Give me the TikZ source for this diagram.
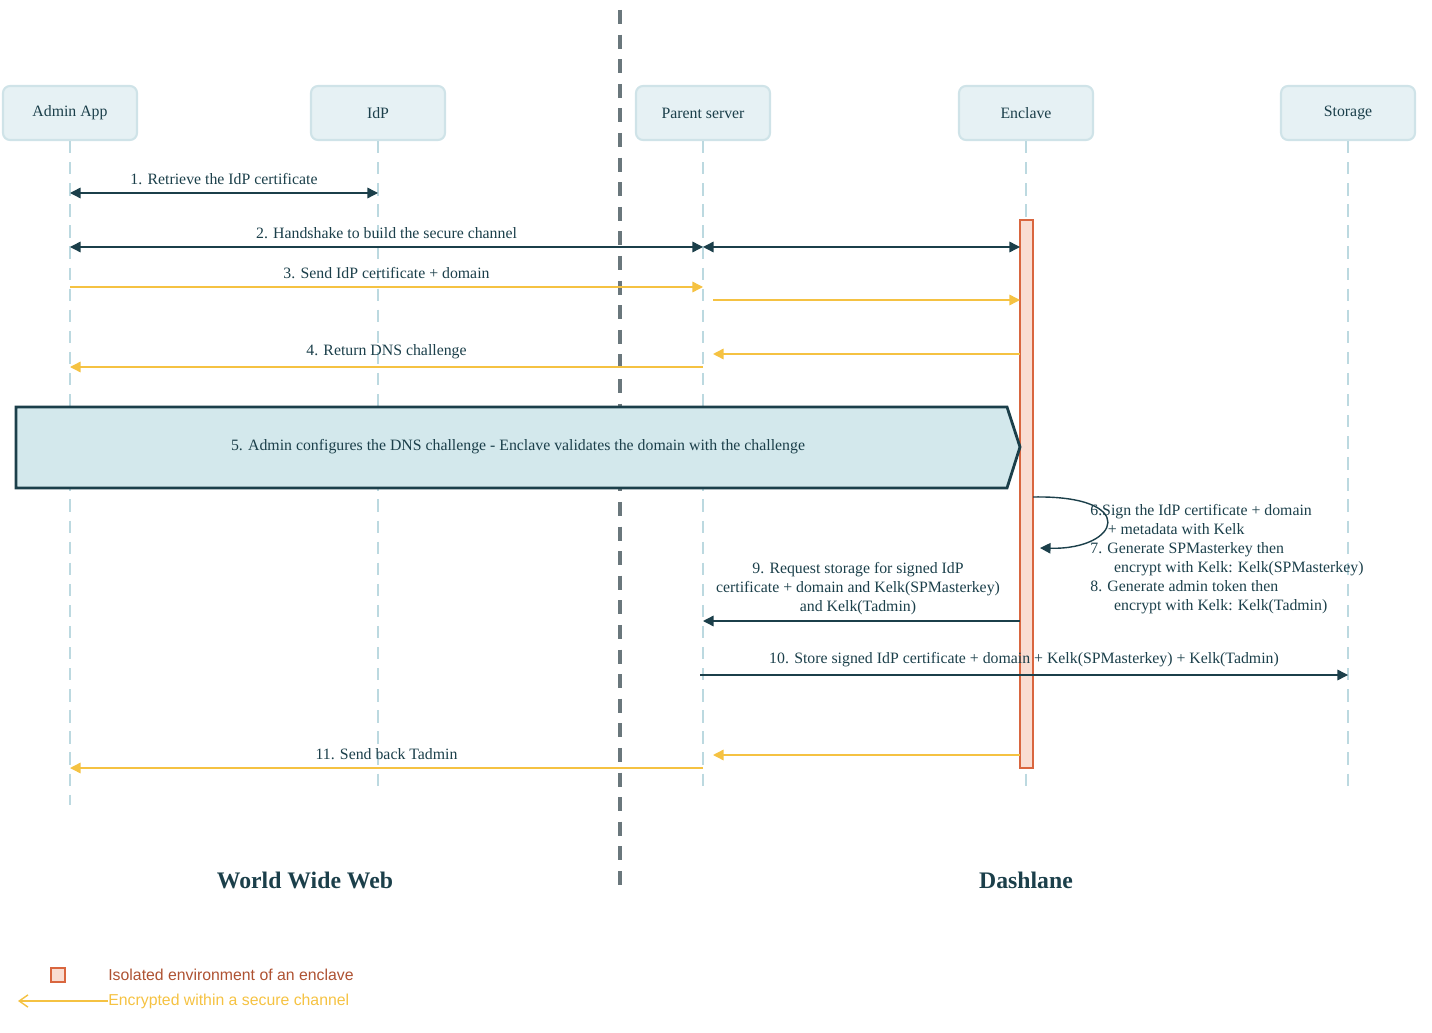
\documentclass[tikz,border=0pt]{standalone}
\usepackage{fontspec}
\setmainfont{Liberation Serif}
\newfontfamily\legfont{Liberation Sans}
\usetikzlibrary{arrows.meta}
\definecolor{dk}{HTML}{1B3F4A}
\definecolor{yl}{HTML}{F5C242}
\definecolor{bxf}{HTML}{E6F1F4}
\definecolor{bxd}{HTML}{CFE3E8}
\definecolor{ll}{HTML}{BCD9E0}
\definecolor{dv}{HTML}{6A777C}
\definecolor{enf}{HTML}{F9DDD2}
\definecolor{end}{HTML}{D9663F}
\definecolor{bnf}{HTML}{D3E8EC}
\begin{document}
\begin{tikzpicture}[x=0.02cm,y=-0.02cm,
  actor/.style={draw=bxd,line width=1.2pt,fill=bxf,rounded corners=4pt,minimum width=134*0.02cm,minimum height=54*0.02cm,font=\fontsize{9}{11}\selectfont,text=dk},
  life/.style={draw=ll,line width=1pt,dash pattern=on 7pt off 5pt},
  msg/.style={draw=dk,line width=0.8pt,-{Triangle[length=6pt,width=6pt]}},
  bi/.style={draw=dk,line width=0.8pt,{Triangle[length=6pt,width=6pt]}-{Triangle[length=6pt,width=6pt]}},
  enc/.style={draw=yl,line width=0.8pt,-{Triangle[length=6pt,width=6pt]}},
  lab/.style={font=\fontsize{9}{10.8}\selectfont,text=dk}]
\useasboundingbox (0,0) rectangle (1432,1033);
% divider
\draw[dv,line width=2pt,dash pattern=on 8pt off 6pt] (620,10) -- (620,890);
% actors
\node[actor] (a) at (70,113) {Admin App};
\node[actor] (i) at (378,113) {IdP};
\node[actor] (p) at (703,113) {Parent server};
\node[actor] (e) at (1026,113) {Enclave};
\node[actor] (s) at (1348,113) {Storage};
\coordinate (ae) at (70,805);
\coordinate (ie) at (378,790);
\coordinate (pe) at (703,790);
\coordinate (ee) at (1026,790);
\coordinate (se) at (1348,790);
\draw[life] (a.south) -- (ae);
\draw[life] (i.south) -- (ie);
\draw[life] (p.south) -- (pe);
\draw[life] (e.south) -- (ee);
\draw[life] (s.south) -- (se);
% activation
\node[draw=end,fill=enf,line width=0.8pt,minimum width=13*0.02cm,minimum height=548*0.02cm,inner sep=0pt] (act) at (1026.5,494) {};
% coordinates on lifelines
\coordinate (a1) at (70,193); \coordinate (i1) at (378,193);
\coordinate (a2) at (70,247); \coordinate (p2) at (703,247); \coordinate (e2) at (1020,247);
\coordinate (a3) at (70,287); \coordinate (p3) at (703,287);
\coordinate (p3b) at (713,300); \coordinate (e3) at (1020,300);
\coordinate (e4) at (1020,354); \coordinate (p4b) at (713,354);
\coordinate (p4) at (703,367); \coordinate (a4) at (70,367);
\coordinate (e9) at (1020,621); \coordinate (p9) at (703,621);
\coordinate (p10) at (700,675); \coordinate (s10) at (1348,675);
\coordinate (e11) at (1020,755); \coordinate (p11b) at (713,755);
\coordinate (p11) at (703,768); \coordinate (a11) at (70,768);
\draw[bi] (a1) -- node[lab,above=1pt] {1. Retrieve the IdP certificate} (i1);
\draw[bi] (a2) -- node[lab,above=1pt] {2. Handshake to build the secure channel} (p2);
\draw[bi] (p2) -- (e2);
\draw[enc] (a3) -- node[lab,above=1pt] {3. Send IdP certificate + domain} (p3);
\draw[enc] (p3b) -- (e3);
\draw[enc] (e4) -- (p4b);
\draw[enc] (p4) -- node[lab,above=1pt] {4. Return DNS challenge} (a4);
% banner
\draw[dk,line width=1.6pt,fill=bnf] (16,407) -- (1007,407) -- (1020,447) -- (1007,488) -- (16,488) -- cycle;
\node[lab] (b5) at (518,447) {5. Admin configures the DNS challenge - Enclave validates the domain with the challenge};
% self loop
\coordinate (l1) at (1033,497);
\coordinate (l2) at (1040,548);
\draw[msg] (l1) .. controls (1140,495) and (1120,550) .. (l2);
\node[lab,anchor=north west,align=left,inner sep=0pt] (t6) at (1090,504) {6.Sign the IdP certificate + domain\\\hspace{1.1em}+ metadata with Kelk\\7. Generate SPMasterkey then\\\hspace{1.5em}encrypt with Kelk: Kelk(SPMasterkey)\\8. Generate admin token then\\\hspace{1.5em}encrypt with Kelk: Kelk(Tadmin)};
\draw[msg] (e9) -- (p9);
\node[lab,align=center] (t9) at (858,589) {9. Request storage for signed IdP\\certificate + domain and Kelk(SPMasterkey)\\and Kelk(Tadmin)};
\draw[msg] (p10) -- node[lab,above=1pt] {10. Store signed IdP certificate + domain + Kelk(SPMasterkey) + Kelk(Tadmin)} (s10);
\draw[enc] (e11) -- (p11b);
\draw[enc] (p11) -- node[lab,above=1pt] {11. Send back Tadmin} (a11);
% titles
\node[font=\fontsize{13.5}{15}\selectfont\bfseries,text=dk] (w) at (305,880) {World Wide Web};
\node[font=\fontsize{13.5}{15}\selectfont\bfseries,text=dk] (d) at (1026,880) {Dashlane};
% legend
\node[draw=end,fill=enf,line width=0.8pt,minimum size=14*0.02cm,inner sep=0pt] (lg1) at (58,975) {};
\node[anchor=west,font=\legfont\fontsize{9}{10}\selectfont,text=end!80!black,inner sep=0pt] (lt1) at (108,975) {Isolated environment of an enclave};
\node[anchor=west,font=\legfont\fontsize{9}{10}\selectfont,text=yl,inner sep=0pt] (lt2) at (108,1001) {Encrypted within a secure channel};
\coordinate (lg2) at (18,1001);
\draw[draw=yl,line width=0.8pt,-{Straight Barb[length=5pt,width=7pt]}] (lt2.west) -- (lg2);
\end{tikzpicture}
\end{document}
